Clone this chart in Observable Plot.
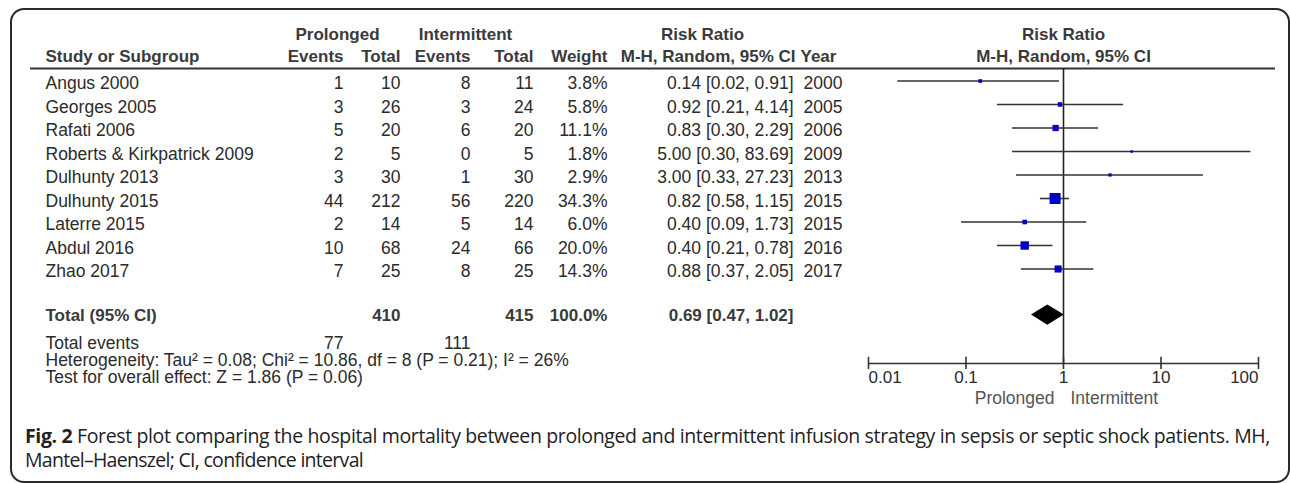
<!DOCTYPE html>
<html>
<head>
<meta charset="utf-8">
<script src="https://cdn.jsdelivr.net/npm/d3@7"></script>
<script src="https://cdn.jsdelivr.net/npm/@observablehq/plot@0.6"></script>
<style>
  body { margin: 0; background: #fff; }
  #wrap { position: relative; width: 1290px; height: 483px; overflow: hidden; font-family: "Liberation Sans", Arial, sans-serif; }
  #box { position: absolute; left: 10px; top: 8px; width: 1280px; height: 475px; border: 2px solid #2a2a2a; border-radius: 14px; box-sizing: border-box; }
  #wrap svg { position: absolute; left: 0; top: 0; }
  #caption { position: absolute; left: 25px; top: 424px; font-family: "Open Sans", sans-serif; font-stretch: 90%; font-size: 19.5px; line-height: 24px; color: #222; white-space: nowrap; }
  #caption b { font-weight: bold; }
  #caption span { display: inline-block; }
</style>
</head>
<body>
<div id="wrap">
  <div id="box"></div>
  <div id="caption"><span id="cap1"><b>Fig. 2</b> Forest plot comparing the hospital mortality between prolonged and intermittent infusion strategy in sepsis or septic shock patients. MH,</span><br><span id="cap2">Mantel–Haenszel; CI, confidence interval</span></div>
</div>
<script>
// ---------- data ----------
const study = ["Angus 2000", "Georges 2005", "Rafati 2006", "Roberts & Kirkpatrick 2009", "Dulhunty 2013", "Dulhunty 2015", "Laterre 2015", "Abdul 2016", "Zhao 2017"];
const prolongedEvents = [1, 3, 5, 2, 3, 44, 2, 10, 7];
const prolongedTotal = [10, 26, 20, 5, 30, 212, 14, 68, 25];
const intermittentEvents = [8, 3, 6, 0, 1, 56, 5, 24, 8];
const intermittentTotal = [11, 24, 20, 5, 30, 220, 14, 66, 25];
const weight = [3.8, 5.8, 11.1, 1.8, 2.9, 34.3, 6.0, 20.0, 14.3];
const riskRatio = [0.14, 0.92, 0.83, 5.00, 3.00, 0.82, 0.40, 0.40, 0.88];
const ciLow = [0.02, 0.21, 0.30, 0.30, 0.33, 0.58, 0.09, 0.21, 0.37];
const ciHigh = [0.91, 4.14, 2.29, 83.69, 27.23, 1.15, 1.73, 0.78, 2.05];
const year = ["2000", "2005", "2006", "2009", "2013", "2015", "2015", "2016", "2017"];

const totalProlonged = 410;
const totalIntermittent = 415;
const totalWeight = 100.0;
const pooledRR = 0.69;
const pooledLow = 0.47;
const pooledHigh = 1.02;
const eventsProlonged = 77;
const eventsIntermittent = 111;
const heterogeneityText = "Heterogeneity: Tau² = 0.08; Chi² = 10.86, df = 8 (P = 0.21); I² = 26%";
const overallEffectText = "Test for overall effect: Z = 1.86 (P = 0.06)";

const axisTicks = [0.01, 0.1, 1, 10, 100];
const axisTickLabels = ["0.01", "0.1", "1", "10", "100"];
const favoursLeft = "Prolonged";
const favoursRight = "Intermittent";

// ---------- layout ----------
const W = 1290, H = 420;
const FONT = '"Liberation Sans", Arial, Helvetica, sans-serif';
const COL = { study: 45, pE: 343, pT: 400, iE: 470, iT: 533, wt: 607, ci: 793, year: 803,
              pGroup: 337, iGroup: 465, rrGroup: 702, ciHead: 795, yearHead: 800, lineL: 30, lineR: 1275 };
const ROW = { group: -2.085, head: -1.13, line: -0.53, total: 9.96, totalText: 9.89, events: 11.04, het: 11.79, test: 12.49,
              axis: 12.02, tickLab: 12.53, favours: 13.4 };
const yScale = { type: "linear", domain: [-3, 14], range: [10, 409.5], axis: null };
const FS = 17.5, FSH = 17, DY = 2.5;
const INK = "#2b2b2b", HEAD = "#3a3a3a";

const rows = study.map((s, i) => ({
  i, study: s,
  pE: prolongedEvents[i], pT: prolongedTotal[i], iE: intermittentEvents[i], iT: intermittentTotal[i],
  w: weight[i], rr: riskRatio[i], lo: ciLow[i], hi: ciHigh[i], year: year[i]
}));

const fmt2 = d3.format(".2f");
const ciText = (r, l, h) => `${fmt2(r)} [${fmt2(l)}, ${fmt2(h)}]`;

const body = (data, o) => Plot.text(data, { fontSize: FS, fill: INK, dy: DY, ...o });
const line1 = (txt, x, anchor, rowY) => body([txt], { x: () => x, y: () => rowY, text: d => d, textAnchor: anchor });
const head = (txt, x, anchor, rowY) => Plot.text([txt], { x: () => x, y: () => rowY, text: d => d, textAnchor: anchor, fontSize: FSH, fontWeight: "bold", fill: HEAD, dy: DY });

const table = Plot.plot({
  width: W, height: H, margin: 0,
  style: { background: "transparent", overflow: "visible", fontFamily: FONT },
  x: { type: "identity", axis: null },
  y: yScale,
  marks: [
    head("Prolonged", COL.pGroup, "middle", ROW.group),
    head("Intermittent", COL.iGroup, "middle", ROW.group),
    head("Risk Ratio", COL.rrGroup, "middle", ROW.group),
    head("Study or Subgroup", COL.study, "start", ROW.head),
    head("Events", COL.pE, "end", ROW.head),
    head("Total", COL.pT, "end", ROW.head),
    head("Events", COL.iE, "end", ROW.head),
    head("Total", COL.iT, "end", ROW.head),
    head("Weight", COL.wt, "end", ROW.head),
    head("M-H, Random, 95% CI", COL.ciHead, "end", ROW.head),
    head("Year", COL.yearHead, "start", ROW.head),
    Plot.ruleY([ROW.line], { x1: COL.lineL, x2: COL.lineR, stroke: "#333", strokeWidth: 2 }),
    body(rows, { x: () => COL.study, y: "i", text: "study", textAnchor: "start" }),
    body(rows, { x: () => COL.pE, y: "i", text: d => String(d.pE), textAnchor: "end" }),
    body(rows, { x: () => COL.pT, y: "i", text: d => String(d.pT), textAnchor: "end" }),
    body(rows, { x: () => COL.iE, y: "i", text: d => String(d.iE), textAnchor: "end" }),
    body(rows, { x: () => COL.iT, y: "i", text: d => String(d.iT), textAnchor: "end" }),
    body(rows, { x: () => COL.wt, y: "i", text: d => d.w.toFixed(1) + "%", textAnchor: "end" }),
    body(rows, { x: () => COL.ci, y: "i", text: d => ciText(d.rr, d.lo, d.hi), textAnchor: "end" }),
    body(rows, { x: () => COL.year, y: "i", text: "year", textAnchor: "start" }),
    // total row
    head("Total (95% CI)", COL.study, "start", ROW.totalText),
    head(String(totalProlonged), COL.pT, "end", ROW.totalText),
    head(String(totalIntermittent), COL.iT, "end", ROW.totalText),
    head(totalWeight.toFixed(1) + "%", COL.wt, "end", ROW.totalText),
    head(ciText(pooledRR, pooledLow, pooledHigh), COL.ci, "end", ROW.totalText),
    line1("Total events", COL.study, "start", ROW.events),
    line1(String(eventsProlonged), COL.pE, "end", ROW.events),
    line1(String(eventsIntermittent), COL.iE, "end", ROW.events),
    line1(heterogeneityText, COL.study, "start", ROW.het),
    line1(overallEffectText, COL.study, "start", ROW.test)
  ]
});

const h = 0.43; // diamond half-height in row units
const diamond = [
  { y: ROW.total - h, x1: pooledRR, x2: pooledRR },
  { y: ROW.total, x1: pooledLow, x2: pooledHigh },
  { y: ROW.total + h, x1: pooledRR, x2: pooledRR }
];
const tickRows = axisTicks.map((t, i) => ({ t, label: axisTickLabels[i] }));

const forest = Plot.plot({
  width: W, height: H, marginLeft: 868, marginRight: 32, marginTop: 0, marginBottom: 0,
  style: { background: "transparent", overflow: "visible", fontFamily: FONT },
  x: { type: "log", domain: [0.01, 100], axis: null },
  y: yScale,
  r: { type: "sqrt", domain: [0, 34.3], range: [0, 6.2] },
  marks: [
    Plot.text(["Risk Ratio"], { x: () => 1, y: () => ROW.group, text: d => d, fontSize: FSH, fontWeight: "bold", fill: HEAD, dy: DY }),
    Plot.text(["M-H, Random, 95% CI"], { x: () => 1, y: () => ROW.head, text: d => d, fontSize: FSH, fontWeight: "bold", fill: HEAD, dy: DY }),
    Plot.ruleX([1], { y1: ROW.line, y2: ROW.axis, stroke: "#222", strokeWidth: 1.6 }),
    Plot.ruleY(rows, { y: "i", x1: "lo", x2: "hi", stroke: "#333", strokeWidth: 1.6 }),
    Plot.dot(rows, { x: "rr", y: "i", r: "w", symbol: "square", fill: "#0000c8", stroke: "none" }),
    Plot.areaX(diamond, { y: "y", x1: "x1", x2: "x2", fill: "#000", curve: "linear" }),
    Plot.ruleY([ROW.axis], { x1: axisTicks[0], x2: axisTicks[axisTicks.length - 1], stroke: "#333", strokeWidth: 1.6 }),
    Plot.ruleX(axisTicks, { x: d => d, y1: ROW.axis - 0.26, y2: ROW.axis + 0.26, stroke: "#333", strokeWidth: 1.6 }),
    Plot.text(tickRows.slice(0, 1), { x: "t", y: () => ROW.tickLab, text: "label", textAnchor: "start", fontSize: FSH, fill: INK, dy: DY }),
    Plot.text(tickRows.slice(1, -1), { x: "t", y: () => ROW.tickLab, text: "label", textAnchor: "middle", fontSize: FSH, fill: INK, dy: DY }),
    Plot.text(tickRows.slice(-1), { x: "t", y: () => ROW.tickLab, text: "label", textAnchor: "end", fontSize: FSH, fill: INK, dy: DY }),
    Plot.text([favoursLeft], { x: () => 1, y: () => ROW.favours, text: d => d, textAnchor: "end", dx: -9, dy: DY, fontSize: FS, fill: "#555" }),
    Plot.text([favoursRight], { x: () => 1, y: () => ROW.favours, text: d => d, textAnchor: "start", dx: 7, dy: DY, fontSize: FS, fill: "#555" })
  ]
});

const wrap = document.getElementById("wrap");
wrap.insertBefore(table, document.getElementById("caption"));
wrap.insertBefore(forest, document.getElementById("caption"));

// fit caption lines to the reference's measured widths
function fitWidth(el, target) {
  const n = el.textContent.length;
  const w = el.getBoundingClientRect().width;
  el.style.letterSpacing = ((target - w) / n) + "px";
}
fitWidth(document.getElementById("cap1"), 1245);
fitWidth(document.getElementById("cap2"), 338);
</script>
</body>
</html>
